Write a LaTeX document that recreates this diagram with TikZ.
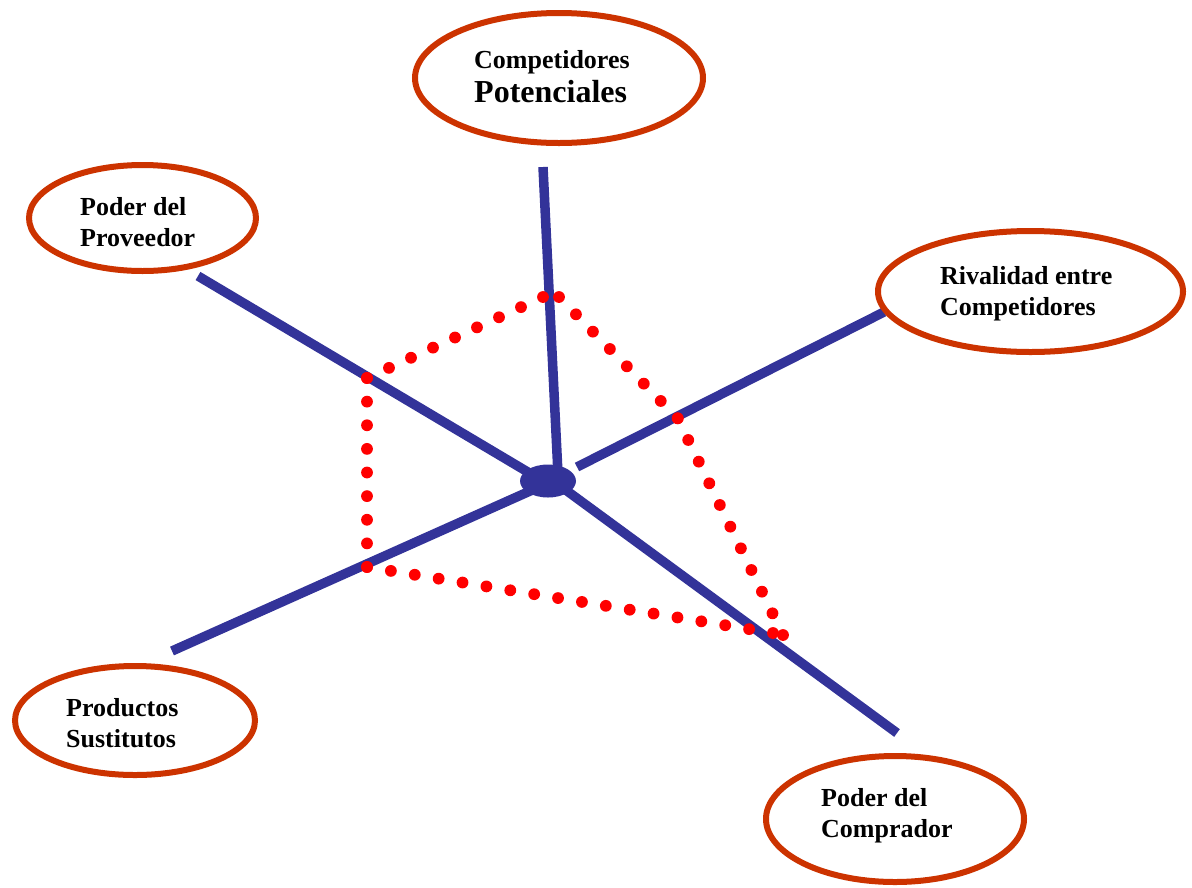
\documentclass[tikz,border=0pt]{standalone}
\usepackage{fontspec}
\setmainfont{Liberation Serif}
\usetikzlibrary{shapes.geometric,calc}
\definecolor{axisblue}{RGB}{51,51,153}
\definecolor{ringred}{RGB}{204,51,0}
\definecolor{dotred}{RGB}{255,0,0}
\newcommand\dotrow[3]{\foreach \i in {0,...,#3} \fill[dotred] ($(#1)!\i/#3!(#2)$) circle (5.9);}
\begin{document}
\begin{tikzpicture}[x=1pt,y=-1pt,
  forcering/.style={ellipse, draw=ringred, line width=6pt, fill=white, inner sep=0pt},
  axis/.style={draw=axisblue, line width=9.5pt},
  lbl/.style={anchor=base west, inner sep=0pt, align=left, font=\bfseries\fontsize{26}{31}\selectfont},
  biglbl/.style={anchor=base west, inner sep=0pt, font=\bfseries\fontsize{32}{36}\selectfont}]
\useasboundingbox (0,0) rectangle (1192,887);

% free ends of the axes
\coordinate (aTop) at (543,167);
\coordinate (aTopIn) at (558,474);
\coordinate (aUL) at (198,276);
\coordinate (aULIn) at (548,484);
\coordinate (aR) at (884,312);
\coordinate (aRIn) at (577,467);
\coordinate (aLL) at (172,651);
\coordinate (aLLIn) at (548,483);
\coordinate (aLR) at (897,733);
\coordinate (aLRIn) at (548,477);

% axes
\draw[axis] (aTop) -- (aTopIn);
\draw[axis] (aUL) -- (aULIn);
\draw[axis] (aRIn) -- (aR);
\draw[axis] (aLL) -- (aLLIn);
\draw[axis] (aLRIn) -- (aLR);
\node[ellipse, fill=axisblue, inner sep=0pt, minimum width=56, minimum height=33] (hub) at (548,481) {};

% force ellipses
\node[forcering, minimum width=288, minimum height=130] (ePot) at (559,78) {};
\node[forcering, minimum width=227, minimum height=106] (eProv) at (142.5,218) {};
\node[forcering, minimum width=305, minimum height=121] (eRiv) at (1030.5,291.5) {};
\node[forcering, minimum width=240, minimum height=109] (eSus) at (135,720.5) {};
\node[forcering, minimum width=258, minimum height=126] (eComp) at (895,819) {};

% labels (base = baseline of the last line)
\node[lbl] (tPot1) at (474,68) {Competidores};
\node[biglbl] (tPot2) at (474,102) {Potenciales};
\node[lbl] (tProv) at (80,246) {Poder del\\Proveedor};
\node[lbl] (tRiv) at (940,315) {Rivalidad entre\\Competidores};
\node[lbl] (tSus) at (66,747) {Productos\\Sustitutos};
\node[lbl] (tComp) at (821,837) {Poder del\\Comprador};

% dotted red outline
\coordinate (d1) at (367,378);
\coordinate (d2) at (543,297);
\coordinate (d3) at (559,297);
\coordinate (d4) at (677.7,418.3);
\coordinate (d5) at (783,635);
\coordinate (d6) at (773,633);
\coordinate (d7) at (367,567);
\dotrow{d1}{d2}{8}
\dotrow{d3}{d4}{7}
\dotrow{d4}{d5}{10}
\dotrow{d7}{d6}{17}
\dotrow{d1}{d7}{8}
\end{tikzpicture}
\end{document}
